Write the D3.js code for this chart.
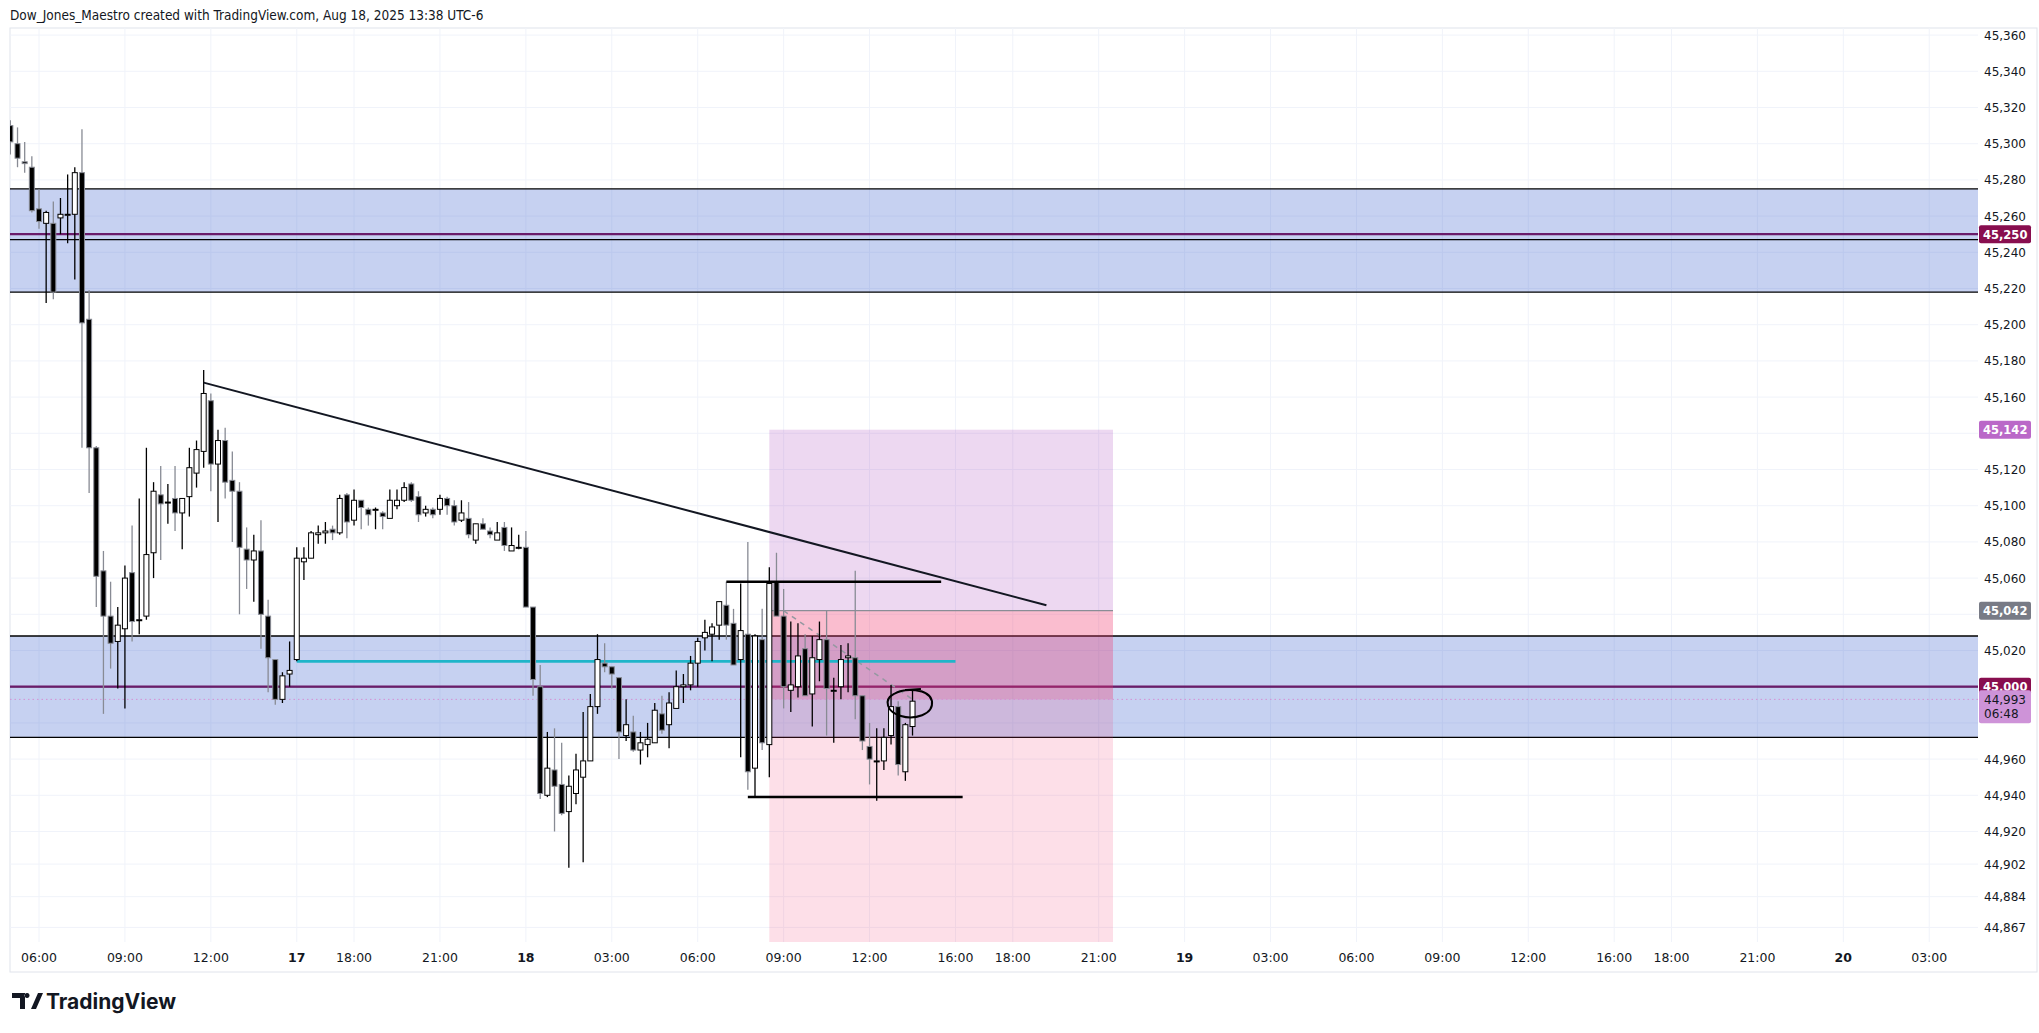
<!DOCTYPE html>
<html><head><meta charset="utf-8">
<script src="https://cdn.jsdelivr.net/npm/d3@7"></script>
<style>
body{margin:0;background:#fff;}
svg text{font-family:"DejaVu Sans",sans-serif;}
</style></head>
<body>
<script>
// 15-minute bars, first bar is index -4 (05:00)
const opens  = [45310,45300,45290,45287,45264,45256,45256,45259,45261,45261,45284,45203,45132,45064,45039,45025,45032,45063,45037,45039,45074,45106,45102,45104,45096,45105,45118,45130,45158,45123,45136,45114,45108,45076,45070,
 45075,45039,45015,44993,45007,45015,45069,45071,45084,45085,45087,45085,45106,45092,45103,45098,45098,45096,45093,45100,45103,45112,45105,45096,45098,45098,45104,45100,45092,45093,45081,45090,45086,45081,45088,45075,45077,45077,45044,45000,44940,
 44954,44946,44931,44941,44950,44959,44989,45013,45011,45005,44973,44975,44965,44968,44969,44985,44979,44988,45000,45001,45013,45027,45029,45034,45045,45035,45015,45029,44955,45026,44968,45058,
 45039,44998,45000,45021,44996,45015,45026,44998,45000,45016,45016,44995,44967,44959,44959,44973,44989,44953,44978];
const highs  = [45313,45309,45301,45293,45275,45263,45268,45270,45283,45287,45308,45219,45133,45075,45058,45044,45067,45089,45104,45132,45113,45122,45112,45122,45104,45132,45136,45175,45162,45142,45143,45130,45113,45088,45084,
 45092,45048,45015,45008,45025,45077,45077,45086,45089,45091,45089,45106,45107,45109,45103,45099,45099,45097,45109,45109,45113,45113,45108,45100,45099,45106,45105,45103,45103,45102,45090,45093,45088,45091,45091,45088,45084,45086,45044,45012,44975,
 44977,44969,44951,44963,44986,44996,45029,45024,45011,45005,44993,44984,44975,44980,44991,44995,44997,45009,45007,45017,45027,45037,45035,45047,45058,45043,45057,45080,45029,45043,45066,45074,
 45054,45036,45035,45029,45028,45036,45042,45005,45023,45024,45064,44995,44980,44977,44977,45001,44992,44980,44998];
const lows   = [45294,45287,45284,45262,45253,45212,45214,45250,45245,45225,45132,45107,45044,44985,45010,44999,44988,45025,45029,45037,45060,45070,45090,45086,45076,45094,45110,45121,45108,45091,45104,45080,45040,45054,45047,
 45021,44997,44990,44991,45000,45014,45059,45071,45079,45079,45081,45084,45082,45089,45087,45089,45087,45087,45093,45098,45102,45102,45091,45094,45093,45095,45095,45089,45091,45082,45079,45087,45082,45081,45075,45075,45076,45044,44995,44938,44939,
 44920,44929,44900,44935,44903,44959,44985,45008,44999,44960,44970,44964,44957,44961,44969,44974,44966,44988,44991,44998,45000,45020,45014,45026,45026,45012,44961,44943,44939,44965,44950,45039,
 44988,44986,44994,44995,44978,45003,44973,44969,44993,44997,44982,44965,44946,44937,44954,44968,44951,44948,44973];
const closes = [45301,45292,45289,45263,45257,45262,45218,45261,45261,45284,45201,45132,45061,45039,45024,45034,45060,45036,45037,45073,45108,45101,45102,45096,45104,45121,45131,45162,45123,45136,45113,45108,45077,45070,45075,
 45040,45016,44993,45006,45009,45071,45071,45085,45085,45086,45085,45104,45091,45103,45099,45095,45098,45094,45103,45103,45110,45103,45095,45098,45095,45104,45100,45091,45096,45084,45090,45087,45084,45085,45078,45078,45077,45044,45004,44941,44955,
 44945,44930,44945,44954,44959,44989,45015,45011,45007,44975,44979,44965,44969,44971,44987,44976,44991,45000,45001,45013,45025,45030,45033,45047,45034,45012,45031,44953,45028,44969,45057,45039,
 45000,45001,45017,44995,45016,45026,44999,44998,45015,45017,44995,44970,44960,44959,44972,44989,44957,44979,44992];
const firstIndex = -4;

const priceTicks = [45360,45340,45320,45300,45280,45260,45240,45220,45200,45180,45160,45120,45100,45080,45060,45020,44960,44940,44920,44902,44884,44867];
const gridPrices = [45360,45340,45320,45300,45280,45260,45240,45220,45200,45180,45160,45140,45120,45100,45080,45060,45040,45020,45000,44980,44960,44940,44920,44902,44884,44867];
const timeTicks = [[0,"06:00"],[12,"09:00"],[24,"12:00"],[36,"17"],[44,"18:00"],[56,"21:00"],[68,"18"],[80,"03:00"],[92,"06:00"],[104,"09:00"],[116,"12:00"],[128,"16:00"],[136,"18:00"],[148,"21:00"],[160,"19"],[172,"03:00"],[184,"06:00"],[196,"09:00"],[208,"12:00"],[220,"16:00"],[228,"18:00"],[240,"21:00"],[252,"20"],[264,"03:00"]];

// drawings
const zones = [{top:45275,bottom:45218,mid:45250,black:45247},{top:45028,bottom:44972,mid:45000,black:45000}];
const trend = [[23,45168],[140.7,45045]];
const cyanLine = {from:36,to:128,price:45014};
const rangeTop = {from:96,to:126,price:45058};
const rangeLow = {from:99,to:129,price:44939};
const position = {from:102,to:150,entry:45042,target:45142,stop:44858,current:44993,entryBar:104,lastBar:122};
const axisTags = [{p:45250,t:"45,250",bg:"#880e4f",fg:"#fff"},{p:45142,t:"45,142",bg:"#ba68c8",fg:"#fff"},{p:45042,t:"45,042",bg:"#787b86",fg:"#fff"},{p:45000,t:"45,000",bg:"#880e4f",fg:"#fff"}];

const W=2039,H=1033, pL=10, pR=1978, pT=28, pB=942;
const x = d3.scaleLinear().domain([0,1]).range([39,46.16]);
const y = d3.scaleLinear().domain([45000,45100]).range([686.7,505.7]);
const fmt = d3.format(",");

const svg = d3.select("body").append("svg").attr("width",W).attr("height",H);
svg.append("text").attr("x",10).attr("y",20).attr("font-size",13.5).attr("fill","#131722")
  .style("font-family","'Liberation Sans Narrow','DejaVu Sans Condensed',sans-serif")
  .text("Dow_Jones_Maestro created with TradingView.com, Aug 18, 2025 13:38 UTC-6");

svg.append("rect").attr("x",pL).attr("y",pT).attr("width",W-pL-2).attr("height",972-pT).attr("fill","none").attr("stroke","#e0e3eb");
const plot = svg.append("g");
plot.append("clipPath").attr("id","c").append("rect").attr("x",pL).attr("y",pT).attr("width",pR-pL).attr("height",pB-pT);
const g = plot.append("g").attr("clip-path","url(#c)");

// grid
g.selectAll(".hg").data(gridPrices).join("line").attr("x1",pL).attr("x2",pR)
  .attr("y1",d=>y(d)).attr("y2",d=>y(d)).attr("stroke","#f0f3fa");
g.selectAll(".vg").data(timeTicks).join("line").attr("y1",pT).attr("y2",pB)
  .attr("x1",d=>x(d[0])).attr("x2",d=>x(d[0])).attr("stroke","#f0f3fa");

// zones
zones.forEach(z=>{
  g.append("rect").attr("x",pL).attr("width",pR-pL).attr("y",y(z.top)).attr("height",y(z.bottom)-y(z.top))
    .attr("fill","rgba(66,103,210,0.3)");
  [z.top,z.bottom,z.black].forEach(p=>g.append("line").attr("x1",pL).attr("x2",pR).attr("y1",y(p)).attr("y2",y(p)).attr("stroke","#000").attr("stroke-width",1.3));
  g.append("line").attr("x1",pL).attr("x2",pR).attr("y1",y(z.mid)).attr("y2",y(z.mid)).attr("stroke","#6a1b6a").attr("stroke-width",2.2);
});

// position tool
const P=position;
g.append("rect").attr("x",x(P.from)).attr("width",x(P.to)-x(P.from)).attr("y",y(P.target)).attr("height",y(P.entry)-y(P.target)).attr("fill","rgba(156,39,176,0.18)");
g.append("rect").attr("x",x(P.from)).attr("width",x(P.to)-x(P.from)).attr("y",y(P.entry)).attr("height",y(P.stop)-y(P.entry)).attr("fill","rgba(242,54,110,0.16)");
g.append("rect").attr("x",x(P.from)).attr("width",x(P.to)-x(P.from)).attr("y",y(P.entry)).attr("height",y(P.current)-y(P.entry)).attr("fill","rgba(242,54,110,0.2)");
g.append("line").attr("x1",x(P.from)).attr("x2",x(P.to)).attr("y1",y(P.entry)).attr("y2",y(P.entry)).attr("stroke","#8a8d96").attr("stroke-width",1.2);
g.append("line").attr("x1",x(P.entryBar)).attr("x2",x(P.lastBar)).attr("y1",y(P.entry)).attr("y2",y(P.current)).attr("stroke","#9598a1").attr("stroke-width",1.5).attr("stroke-dasharray","5,5");

// current price dotted line
g.append("line").attr("x1",pL).attr("x2",pR).attr("y1",y(P.current)).attr("y2",y(P.current)).attr("stroke","#d48fd4").attr("stroke-dasharray","1.5,3");

// cyan line
g.append("line").attr("x1",x(cyanLine.from)).attr("x2",x(cyanLine.to)).attr("y1",y(cyanLine.price)).attr("y2",y(cyanLine.price)).attr("stroke","#1fb5c9").attr("stroke-width",2.6);

// candles
const bars = opens.map((o,i)=>({i:i+firstIndex,o,h:highs[i],l:lows[i],c:closes[i]}));
const cg = g.append("g");
cg.selectAll(".w").data(bars).join("line").attr("x1",d=>x(d.i)).attr("x2",d=>x(d.i))
  .attr("y1",d=>y(d.h)).attr("y2",d=>y(d.l)).attr("stroke",d=>d.c>=d.o?"#000":"#888b94").attr("stroke-width",1.3);
cg.selectAll(".b").data(bars).join("rect").attr("x",d=>x(d.i)-2.5).attr("width",5)
  .attr("y",d=>y(Math.max(d.o,d.c))).attr("height",d=>Math.max(1,Math.abs(y(d.o)-y(d.c))))
  .attr("fill",d=>d.c>=d.o?"#fff":"#000").attr("stroke",d=>d.c>=d.o?"#000":"#888b94").attr("stroke-width",1);

// trendline and ranges
g.append("line").attr("x1",x(trend[0][0])).attr("y1",y(trend[0][1])).attr("x2",x(trend[1][0])).attr("y2",y(trend[1][1])).attr("stroke","#131722").attr("stroke-width",2);
[rangeTop,rangeLow].forEach(r=>g.append("line").attr("x1",x(r.from)).attr("x2",x(r.to)).attr("y1",y(r.price)).attr("y2",y(r.price)).attr("stroke","#000").attr("stroke-width",2.5));

// hand drawn circle
const cx=x(121.5), cy=y(44991);
g.append("path").attr("d",`M${cx-15},${cy-9} C${cx-5},${cy-15} ${cx+20},${cy-15} ${cx+23},${cy-2} C${cx+25},${cy+12} ${cx+5},${cy+17} ${cx-8},${cy+13} C${cx-22},${cy+9} ${cx-26},${cy-3} ${cx-15},${cy-9} M${cx-4},${cy-13} L${cx+12},${cy-14}`)
  .attr("fill","none").attr("stroke","#000").attr("stroke-width",2);

// price axis labels
svg.selectAll(".pt").data(priceTicks).join("text").attr("x",1984).attr("y",d=>y(d)+4.5).attr("font-size",12).attr("fill","#131722").text(d=>fmt(d));
axisTags.forEach(t=>{
  svg.append("rect").attr("x",1979).attr("y",y(t.p)-9).attr("width",52).attr("height",18).attr("rx",2).attr("fill",t.bg);
  svg.append("text").attr("x",1983).attr("y",y(t.p)+4.5).attr("font-size",11.5).attr("font-weight","bold").attr("fill",t.fg).text(t.t);
});
svg.append("rect").attr("x",1979).attr("y",y(P.current)-9).attr("width",52).attr("height",33).attr("rx",2).attr("fill","#ce93d8");
svg.append("text").attr("x",1984).attr("y",y(P.current)+4.5).attr("font-size",12).attr("fill","#131722").text(fmt(P.current));
svg.append("text").attr("x",1984).attr("y",y(P.current)+19).attr("font-size",12).attr("fill","#131722").text("06:48");

// time axis labels
svg.selectAll(".tt").data(timeTicks).join("text").attr("x",d=>x(d[0])).attr("y",962).attr("text-anchor","middle")
  .attr("font-size",12.5).attr("font-weight",d=>d[1].length<3?"bold":"normal").attr("fill","#131722").text(d=>d[1]);

// logo
svg.append("path").attr("d","M12,993 h13 v16 h-5 v-11 h-8z M27,993 a2.5,2.5 0 1,0 0.1,0 M31,1009 l7,-16 h5 l-7,16z").attr("fill","#131722");
svg.append("text").attr("x",46).attr("y",1009).attr("font-size",21).attr("font-weight","bold").attr("fill","#131722")
  .style("font-family","Inter,'Open Sans',sans-serif").text("TradingView");
</script>
</body></html>
